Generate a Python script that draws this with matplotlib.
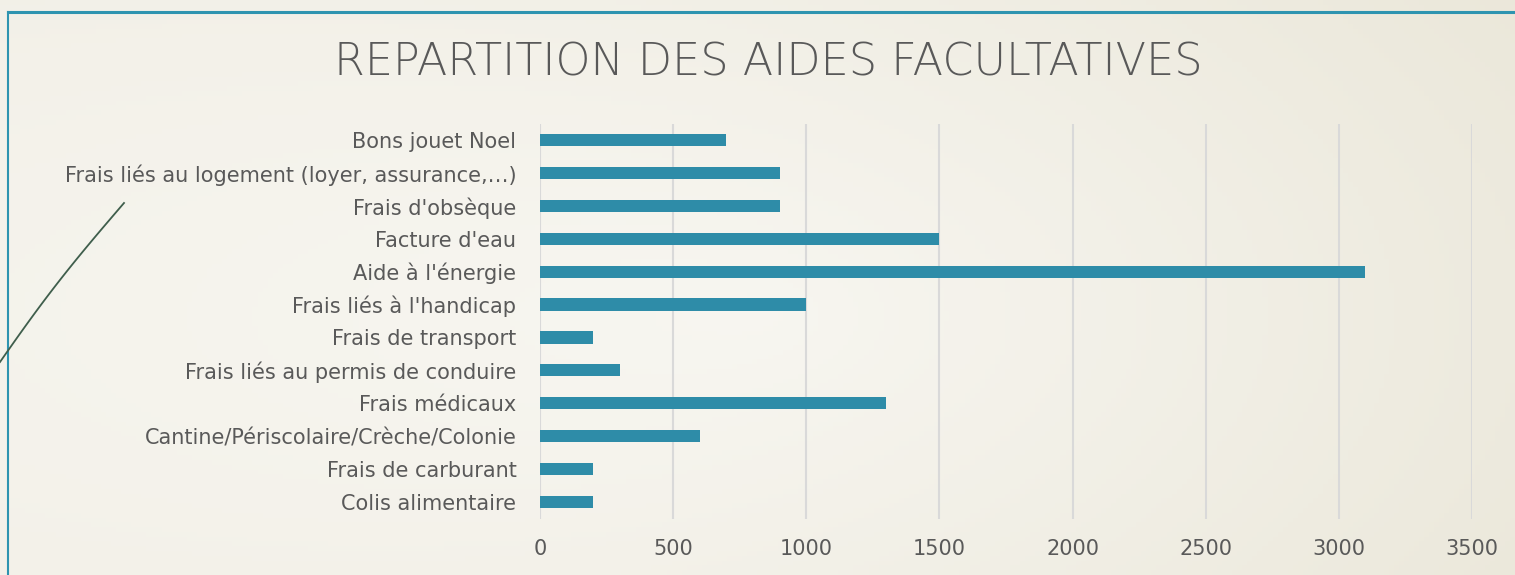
import numpy as np
import matplotlib
matplotlib.use('Agg')
import matplotlib.pyplot as plt
from matplotlib.lines import Line2D

# data, top to bottom as in the chart
categories = [
    "Bons jouet Noel",
    "Frais liés au logement (loyer, assurance,…)",
    "Frais d'obsèque",
    "Facture d'eau",
    "Aide à l'énergie",
    "Frais liés à l'handicap",
    "Frais de transport",
    "Frais liés au permis de conduire",
    "Frais médicaux",
    "Cantine/Périscolaire/Crèche/Colonie",
    "Frais de carburant",
    "Colis alimentaire",
]
values = [700, 900, 900, 1500, 3100, 1000, 200, 300, 1300, 600, 200, 200]
xticks = [0, 500, 1000, 1500, 2000, 2500, 3000, 3500]

plt.rcParams['font.family'] = ['DejaVu Sans']
txt = '#595959'
bar_col = '#2E8CA8'

fig = plt.figure(figsize=(15.15, 5.75), dpi=100)

# background gradient
bg = fig.add_axes([0, 0, 1, 1], zorder=-10)
xx, yy = np.meshgrid(np.linspace(0, 1, 300), np.linspace(0, 1, 120))
d = np.sqrt(((xx - 0.5) / 0.9) ** 2 + ((yy - 0.45) / 1.1) ** 2)
d = np.clip(d, 0, 1) * 0.6 + xx * 0.4
c0 = np.array([0.985, 0.982, 0.970])
c1 = np.array([0.910, 0.895, 0.835])
img = c0[None, None, :] * (1 - d[..., None]) + c1[None, None, :] * d[..., None]
bg.imshow(img, aspect='auto', extent=[0, 1, 0, 1], origin='lower')
bg.set_xlim(0, 1)
bg.set_ylim(0, 1)
bg.axis('off')

# slide decorations
W, H = 1515, 575
fig.add_artist(Line2D([8 / W, 1], [1 - 12 / H, 1 - 12 / H], color='#2E94B0', lw=2.2, transform=fig.transFigure))
fig.add_artist(Line2D([8 / W, 8 / W], [0, 1 - 12 / H], color='#2E94B0', lw=1.5, transform=fig.transFigure))
t = np.linspace(0, 1, 50)
cx = (124 - 124 * t - 4 * np.sin(np.pi * t)) / W
cy = 1 - (203 + 159 * t) / H
fig.add_artist(Line2D(cx, cy, color='#3F5E4C', lw=1.3, transform=fig.transFigure))

ax = fig.add_axes([540 / W, 1 - 518.5 / H, (1472 - 540) / W, (518.5 - 123.5) / H])
ax.patch.set_alpha(0)
y = np.arange(len(categories))
ax.barh(y, values, height=0.37, color=bar_col, zorder=3)
ax.set_ylim(len(categories) - 0.5, -0.5)
ax.set_xlim(0, 3500)
ax.set_xticks(xticks)
ax.set_yticks(y, categories)
ax.grid(axis='x', color='#D9D9D9', lw=1.5, zorder=0)
for s in ax.spines.values():
    s.set_visible(False)
ax.tick_params(axis='both', length=0, colors=txt, labelsize=15)
ax.tick_params(axis='x', pad=15)
ax.tick_params(axis='y', pad=17)

fig.text(768 / W, 1 - 63 / H, 'REPARTITION DES AIDES FACULTATIVES', ha='center', va='center',
         fontsize=32, color=txt, fontweight='light')

fig.savefig('out.png', dpi=100)
